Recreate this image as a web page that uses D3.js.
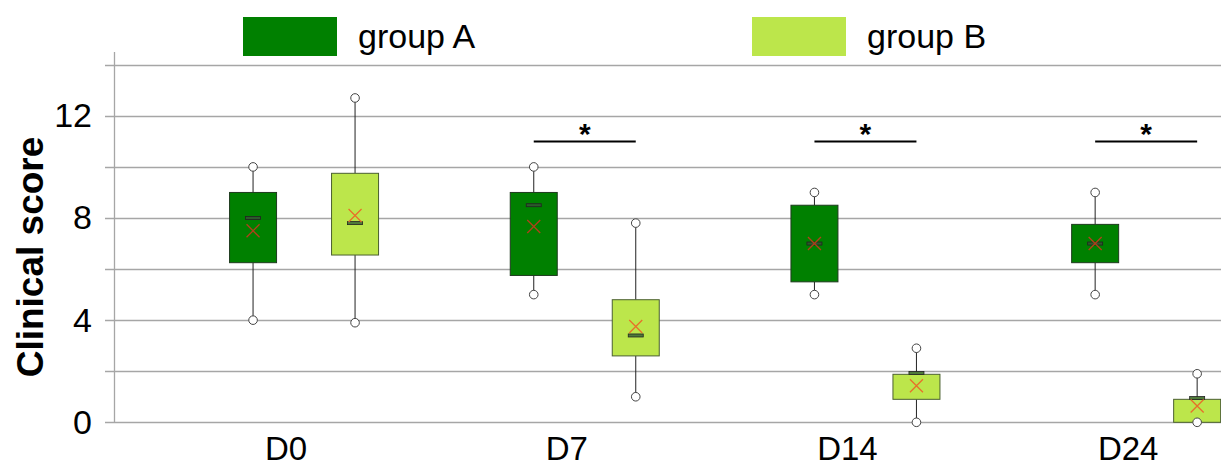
<!DOCTYPE html>
<html>
<head>
<meta charset="utf-8">
<script src="https://cdn.jsdelivr.net/npm/d3@7"></script>
<style>
  body{margin:0;background:#fff;}
  text{font-family:"Liberation Sans",Arial,sans-serif;}
</style>
</head>
<body>
<div class="box"></div>
<script>
const categories=['D0','D7','D14','D24'];
const groups=['group A','group B'];
const yTicks=[0,4,8,12];

const groupA_min=[4,5,5,5];
const groupA_q1=[6.25,5.75,5.5,6.25];
const groupA_median=[8,8.5,7,7];
const groupA_q3=[9,9,8.5,7.75];
const groupA_max=[10,10,9,9];
const groupA_mean=[7.5,7.67,7,7];

const groupB_min=[3.9,1,0,0];
const groupB_q1=[6.55,2.6,0.9,0];
const groupB_median=[7.8,3.4,1.93,0.95];
const groupB_q3=[9.75,4.8,1.88,0.9];
const groupB_max=[12.7,7.8,2.9,1.9];
const groupB_mean=[8.1,3.75,1.43,0.64];

const signif=['','*','*','*'];
const signifLevel=11;

const dims={width:1221,height:468,left:114,top:52,bottom:422.3};
const colors=['#008000','#bce64b'];

const svg=d3.select('.box')
    .append('svg')
    .attr('width',dims.width)
    .attr('height',dims.height);

const y=d3.scaleLinear()
    .domain([0,14.5])
    .range([dims.bottom,dims.top]);
const x=d3.scaleBand()
    .domain(categories)
    .range([163.7,1286.5]);
const xg=d3.scalePoint()
    .domain(groups)
    .range([-51,51]);
const boxW=47;

// gridlines every 2
svg.append('g')
    .selectAll('line')
    .data(d3.range(0,15,2))
    .enter()
    .append('line')
    .attr('x1',105)
    .attr('x2',dims.width)
    .attr('y1',d=>Math.round(y(d))+0.5)
    .attr('y2',d=>Math.round(y(d))+0.5)
    .attr('stroke','#a6a6a6')
    .attr('stroke-width',1.3);

svg.append('line')
    .attr('x1',dims.left+0.5).attr('x2',dims.left+0.5)
    .attr('y1',dims.top).attr('y2',y(0))
    .attr('stroke','#a6a6a6')
    .attr('stroke-width',1.3);

const yAxis=svg.append('g')
    .attr('transform',`translate(${dims.left},0)`)
    .call(d3.axisLeft(y).tickValues(yTicks).tickSize(0).tickPadding(22).tickFormat(d3.format('d')));
yAxis.select('.domain').remove();
yAxis.selectAll('text')
    .attr('font-size',34)
    .attr('fill','#000');

svg.append('text')
    .attr('transform',`translate(43,${(127+387)/2}) rotate(-90)`)
    .attr('text-anchor','middle')
    .attr('font-size',37)
    .attr('font-weight','bold')
    .text('Clinical score');

const xAxis=svg.append('g')
    .attr('transform',`translate(0,${dims.bottom})`)
    .call(d3.axisBottom(x).tickSize(0).tickPadding(14));
xAxis.select('.domain').remove();
xAxis.selectAll('text')
    .attr('font-size',33)
    .attr('fill','#000')
    .attr('dx',-18);

const stats=[
    {min:groupA_min,q1:groupA_q1,med:groupA_median,q3:groupA_q3,max:groupA_max,mean:groupA_mean},
    {min:groupB_min,q1:groupB_q1,med:groupB_median,q3:groupB_q3,max:groupB_max,mean:groupB_mean}
];
const boxes=[];
groups.forEach((g,gi)=>{
    categories.forEach((c,ci)=>{
        const s=stats[gi];
        boxes.push({cat:c,grp:g,gi:gi,min:s.min[ci],q1:s.q1[ci],med:s.med[ci],q3:s.q3[ci],max:s.max[ci],mean:s.mean[ci]});
    });
});
const cx=d=>x(d.cat)+x.bandwidth()/2+xg(d.grp);

const bg=svg.selectAll('g.boxplot')
    .data(boxes)
    .enter()
    .append('g')
    .attr('class','boxplot');

bg.append('line')
    .attr('x1',cx).attr('x2',cx)
    .attr('y1',d=>y(d.max)).attr('y2',d=>y(d.q3))
    .attr('stroke','#222');
bg.append('line')
    .attr('x1',cx).attr('x2',cx)
    .attr('y1',d=>y(d.q1)).attr('y2',d=>y(d.min))
    .attr('stroke','#222');
bg.append('rect')
    .attr('x',d=>cx(d)-boxW/2)
    .attr('y',d=>y(d.q3))
    .attr('width',boxW)
    .attr('height',d=>Math.max(0,y(d.q1)-y(d.q3)))
    .attr('fill',d=>colors[d.gi])
    .attr('stroke',d=>d.gi==0?'#1f3a1f':'#4a5f30')
    .attr('stroke-width',1);
bg.append('rect')
    .attr('x',d=>cx(d)-7.5)
    .attr('y',d=>y(d.med)-1.5)
    .attr('width',15)
    .attr('height',3)
    .attr('fill',d=>d.gi==0?'#2c5a2c':'#4f7a3a')
    .attr('stroke','#222')
    .attr('stroke-width',0.8);
bg.append('path')
    .attr('d',d=>{
        const px=cx(d),py=y(d.mean),r=6.5;
        return `M${px-r},${py-r}L${px+r},${py+r}M${px-r},${py+r}L${px+r},${py-r}`;
    })
    .attr('stroke',d=>d.gi==0?'#b0401a':'#e8702a')
    .attr('stroke-width',1.3)
    .attr('fill','none');
['min','max'].forEach(k=>{
    bg.append('circle')
        .attr('cx',cx)
        .attr('cy',d=>y(d[k]))
        .attr('r',4.3)
        .attr('fill','#fff')
        .attr('stroke','#444')
        .attr('stroke-width',1);
});

// significance bars
const sig=svg.selectAll('g.sig')
    .data(categories.filter((c,i)=>signif[i]!==''))
    .enter()
    .append('g')
    .attr('class','sig');
sig.append('line')
    .attr('x1',c=>x(c)+x.bandwidth()/2+xg(groups[0]))
    .attr('x2',c=>x(c)+x.bandwidth()/2+xg(groups[1]))
    .attr('y1',y(signifLevel))
    .attr('y2',y(signifLevel))
    .attr('stroke','#000')
    .attr('stroke-width',2);
sig.append('text')
    .attr('x',c=>x(c)+x.bandwidth()/2)
    .attr('y',y(signifLevel)+3)
    .attr('text-anchor','middle')
    .attr('font-size',30)
    .attr('font-weight','bold')
    .text(c=>signif[categories.indexOf(c)]);

// legend
const legend=svg.append('g')
    .selectAll('g')
    .data(groups)
    .enter()
    .append('g')
    .attr('transform',(d,i)=>`translate(${[243,752][i]},17)`);
legend.append('rect')
    .attr('width',94)
    .attr('height',39)
    .attr('fill',(d,i)=>colors[i]);
legend.append('text')
    .attr('x',115)
    .attr('y',31)
    .attr('font-size',34)
    .attr('fill','#000')
    .text(d=>d);
</script>
</body>
</html>
